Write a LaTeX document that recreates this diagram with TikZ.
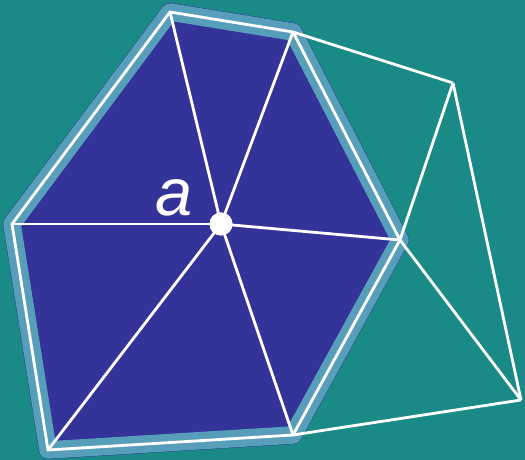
\documentclass[tikz,border=0pt]{standalone}
\usepackage{fontspec}
\setmainfont{Liberation Sans}
\usetikzlibrary{calc}
\definecolor{bgteal}{HTML}{1A8A87}
\definecolor{linkblue}{HTML}{343399}
\definecolor{bandblue}{HTML}{579EBB}
\definecolor{shadeblue}{HTML}{2E2E90}
\tikzset{
  edge/.style={draw=white, line width=1.6pt},
  band/.style={draw=bandblue, line width=10pt, line join=round},
  bandshade/.style={draw=shadeblue, line width=10.4pt, line join=round},
  vdot/.style={circle, fill=white, minimum size=0.46cm, inner sep=0pt}
}

\begin{document}
\begin{tikzpicture}[x=0.02cm, y=-0.02cm,
  lbl/.style={font=\itshape\fontsize{38}{40}\selectfont, text=white, inner sep=0pt}
]
\fill[bgteal] (0,0) rectangle (525,460);
\useasboundingbox (0,0) rectangle (525,460);
\coordinate (v1) at (170,12);
\coordinate (v2) at (293,32);
\coordinate (v3) at (400,240);
\coordinate (v4) at (293,435);
\coordinate (v5) at (48,450);
\coordinate (v6) at (12,224);
\coordinate (p) at (453,83);
\coordinate (q) at (521,400);
% link of a
\fill[linkblue] (v1) -- (v2) -- (v3) -- (v4) -- (v5) -- (v6) -- cycle;
\draw[bandshade, shift={(2,2)}] (v1) -- (v2) -- (v3) -- (v4) -- (v5) -- (v6) -- cycle;
\draw[band] (v1) -- (v2) -- (v3) -- (v4) -- (v5) -- (v6) -- cycle;
\draw[edge] (v1) -- (v2) -- (v3) -- (v4) -- (v5) -- (v6) -- cycle;
\node[vdot] (a) at (221,224) {};
\foreach \v in {v1,v2,v3,v4,v5,v6}
  \draw[edge] (a.center) -- (\v);
\node[vdot] at (a) {};
% outside triangles
\draw[edge] (v2) -- (p);
\draw[edge] (p) -- (v3);
\draw[edge] (p) -- (q);
\draw[edge] (v3) -- (q);
\draw[edge] (v4) -- (q);
\node[lbl] (alabel) at (174,198) {a};
\end{tikzpicture}
\end{document}
